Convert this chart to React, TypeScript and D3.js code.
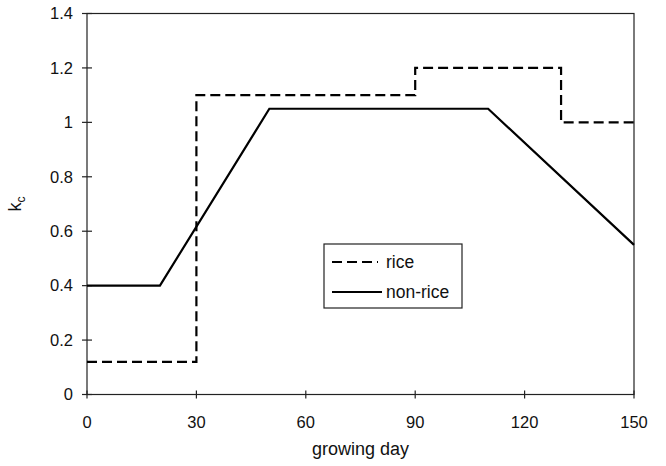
import React from "react";
import * as d3 from "d3";

const riceDays = [0, 30, 30, 90, 90, 130, 130, 150];
const riceKc = [0.12, 0.12, 1.1, 1.1, 1.2, 1.2, 1.0, 1.0];
const nonRiceDays = [0, 20, 50, 110, 150];
const nonRiceKc = [0.4, 0.4, 1.05, 1.05, 0.55];
const xTicks = [0, 30, 60, 90, 120, 150];
const yTicks = [0, 0.2, 0.4, 0.6, 0.8, 1, 1.2, 1.4];

export default function App() {
  const W = 666, H = 466;
  const L = 87, R = 634, T = 13.5, B = 394.5;
  const x = d3.scaleLinear().domain([0, 150]).range([L, R]);
  const y = d3.scaleLinear().domain([0, 1.4]).range([B, T]);
  const line = d3.line<[number, number]>().x(d => x(d[0])).y(d => y(d[1]));
  const rice = line(riceDays.map((d, i) => [d, riceKc[i]]) as [number, number][]);
  const nonRice = line(nonRiceDays.map((d, i) => [d, nonRiceKc[i]]) as [number, number][]);
  const font = "Liberation Sans, Arial, sans-serif";
  return (
    <svg width={W} height={H} style={{ position: "absolute", left: 0, top: 0 }} fontFamily={font}>
      <rect x={0} y={0} width={W} height={H} fill="#fff" />
      <rect x={L} y={T} width={R - L} height={B - T} fill="none" stroke="#222" strokeWidth={1.2} />
      {yTicks.map(t => (
        <g key={"y" + t}>
          <line x1={L - 5} x2={L + 5} y1={y(t)} y2={y(t)} stroke="#222" strokeWidth={1.2} />
          <text x={L - 14} y={y(t)} dy="0.35em" textAnchor="end" fontSize={16.5} fill="#111">{String(t)}</text>
        </g>
      ))}
      {xTicks.map(t => (
        <g key={"x" + t}>
          <line x1={x(t)} x2={x(t)} y1={B - 4} y2={B + 4} stroke="#222" strokeWidth={1.2} />
          <text x={x(t)} y={B + 33.5} textAnchor="middle" fontSize={16.5} fill="#111">{String(t)}</text>
        </g>
      ))}
      <path d={rice || ""} fill="none" stroke="#000" strokeWidth={2.2} strokeDasharray="10,5" />
      <path d={nonRice || ""} fill="none" stroke="#000" strokeWidth={2.2} />
      <text x={(L + R) / 2} y={455} textAnchor="middle" fontSize={18} fill="#111">growing day</text>
      <text transform={`translate(21,${(T + B) / 2}) rotate(-90)`} textAnchor="middle" fontSize={18} fill="#111">
        k<tspan fontSize={12} dy={4}>c</tspan>
      </text>
      <g>
        <rect x={324} y={244} width={138} height={64} fill="#fff" stroke="#222" strokeWidth={1.2} />
        <line x1={332} x2={378} y1={262} y2={262} stroke="#000" strokeWidth={2.2} strokeDasharray="10,5" />
        <text x={386} y={262} dy="0.35em" fontSize={17.5} fill="#111">rice</text>
        <line x1={332} x2={382} y1={292} y2={292} stroke="#000" strokeWidth={2.2} />
        <text x={386} y={292} dy="0.35em" fontSize={17.5} fill="#111">non-rice</text>
      </g>
    </svg>
  );
}
